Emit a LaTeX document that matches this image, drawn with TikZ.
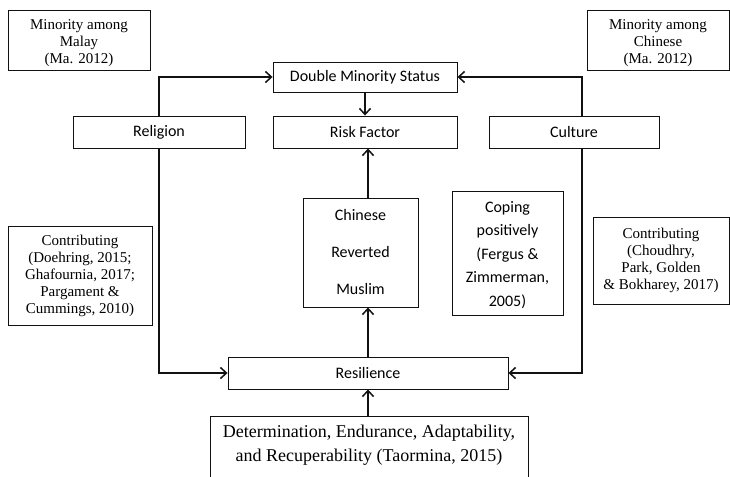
\documentclass[tikz,border=0pt]{standalone}
\usepackage{fontspec}
\setmainfont{Liberation Serif}
\newfontfamily\calib{Carlito}
\usetikzlibrary{arrows.meta}
\definecolor{ink}{RGB}{17,17,17}

\begin{document}
\begin{tikzpicture}[x=1pt,y=-1pt,
  cbox/.style={draw=ink,line width=0.9pt,inner sep=0pt,align=center,font=\calib\fontsize{16}{19}\selectfont},
  refbox/.style={draw=ink,line width=0.9pt,inner sep=0pt,align=center,font=\fontsize{15}{17}\selectfont},
  link/.style={line width=1.5pt,color=ink,-{Straight Barb[length=6pt,width=11pt]}}]
  \useasboundingbox (0,0) rectangle (730,476);

  % sources on top
  \node[refbox,minimum width=142pt,minimum height=60pt,text height=50pt,text depth=3pt] (malay) at (79,40) {Minority among\\Malay\\(Ma. 2012)};
  \node[refbox,minimum width=142pt,minimum height=60pt,text height=50pt,text depth=3pt] (chin) at (658,40) {Minority among\\Chinese\\(Ma. 2012)};

  \node[cbox,minimum width=184pt,minimum height=30pt] (dms) at (365,77) {Double Minority Status};
  \node[cbox,minimum width=184pt,minimum height=32pt] (risk) at (365,132) {Risk Factor};
  \node[cbox,minimum width=172pt,minimum height=32pt] (rel) at (159,132) {Religion};
  \node[cbox,minimum width=170pt,minimum height=32pt] (cul) at (574,132) {Culture};

  \node[cbox,minimum width=115pt,minimum height=109pt,font=\calib\fontsize{16}{37}\selectfont] (crm) at (360.5,252.5) {Chinese\\Reverted\\Muslim};
  \node[cbox,minimum width=111pt,minimum height=124pt,text height=110pt,text depth=4pt,font=\calib\fontsize{16}{23.5}\selectfont] (cope) at (507.5,253) {Coping\\positively\\(Fergus \&\\Zimmerman,\\2005)};

  \node[refbox,minimum width=144pt,minimum height=99pt] (lcon) at (80,275.5) {Contributing\\(Doehring, 2015;\\Ghafournia, 2017;\\Pargament \&\\Cummings, 2010)};
  \node[refbox,minimum width=136pt,minimum height=87pt] (rcon) at (661,260.5) {Contributing\\(Choudhry,\\Park, Golden\\\& Bokharey, 2017)};

  \node[cbox,minimum width=280pt,minimum height=32pt] (res) at (368,373) {Resilience};
  \node[refbox,anchor=north,minimum width=318pt,inner ysep=9pt,text depth=40pt,font=\fontsize{18}{24}\selectfont] (det) at (369,416) {Determination, Endurance, Adaptability,\\and Recuperability (Taormina, 2015)};

  % connectors
  \draw[link] (rel.north) |- (dms.west);
  \draw[link] ([xshift=8pt]cul.north) |- (dms.east);
  \draw[link] (dms.south) -- (risk.north);
  \draw[link] (crm.north -| res.north) -- (risk.south -| res.north);
  \draw[link] (res.north) -- (crm.south -| res.north);
  \draw[link] (rel.south) |- (res.west);
  \draw[link] ([xshift=8pt]cul.south) |- (res.east);
  \draw[link] (det.north -| res.south) -- (res.south);
\end{tikzpicture}
\end{document}
